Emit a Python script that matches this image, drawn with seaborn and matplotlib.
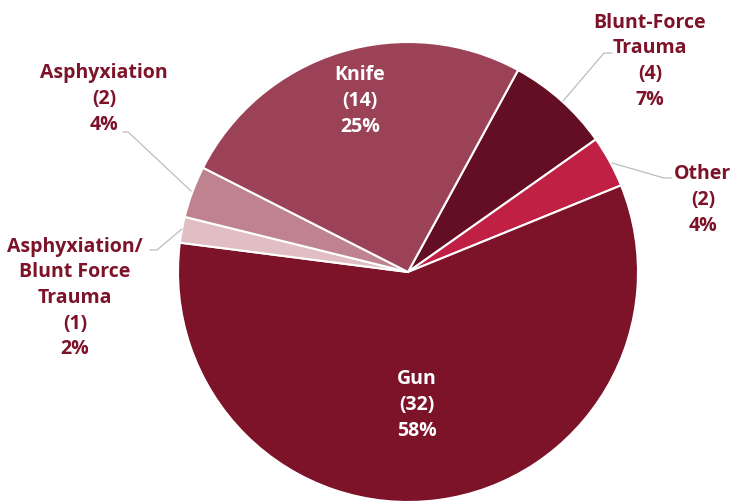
import matplotlib
matplotlib.use("Agg")
import matplotlib.pyplot as plt
import seaborn as sns

# data (clockwise from the Knife / Blunt-Force boundary)
categories = ["Blunt-Force\nTrauma", "Other", "Gun", "Asphyxiation/\nBlunt Force\nTrauma",
              "Asphyxiation", "Knife"]
counts = [4, 2, 32, 1, 2, 14]
colors = ["#640E24", "#C02043", "#7D1329", "#E0BEC4", "#BE838F", "#9B4257"]

# label placement (data coords, pie radius = 1)
label_pos = [(1.052, 0.917), (1.282, 0.313), (0.039, -0.578), (-1.448, -0.113),
             (-1.322, 0.752), (-0.209, 0.743)]
inside = [False, False, True, False, False, True]
leaders = [
    [(0.887, 0.952), (0.852, 0.952), (0.674, 0.743)],
    [(1.145, 0.409), (1.112, 0.409), (0.887, 0.474)],
    None,
    [(-1.122, 0.096), (-1.091, 0.096), (-0.983, 0.187)],
    [(-1.239, 0.609), (-1.217, 0.609), (-0.943, 0.352)],
    None,
]

sns.set_theme(style="white")
plt.rcParams['font.family'] = ['Open Sans', 'DejaVu Sans']

fig = plt.figure(figsize=(7.36, 5.04), dpi=100)
ax = fig.add_axes([178 / 736, 2 / 504, 460 / 736, 460 / 504])

total = sum(counts)
ax.pie(counts, colors=colors, startangle=61.4, counterclock=False, radius=1,
       wedgeprops=dict(edgecolor="white", linewidth=1.5))

text_color = "#7D1329"
for cat, n, pos, ins, ld in zip(categories, counts, label_pos, inside, leaders):
    pct = round(100 * n / total)
    txt = f"{cat}\n({n})\n{pct}%"
    ax.text(pos[0], pos[1], txt, ha="center", va="center", fontsize=14,
            fontweight="bold", linespacing=1.38,
            color="white" if ins else text_color)
    if ld is not None:
        xs = [p[0] for p in ld]
        ys = [p[1] for p in ld]
        ax.plot(xs, ys, color="#BDBDBD", lw=0.9, clip_on=False)

ax.set_xlim(-1, 1)
ax.set_ylim(-1, 1)
ax.set_aspect("equal")
ax.axis("off")

fig.savefig("out.png", dpi=100)
